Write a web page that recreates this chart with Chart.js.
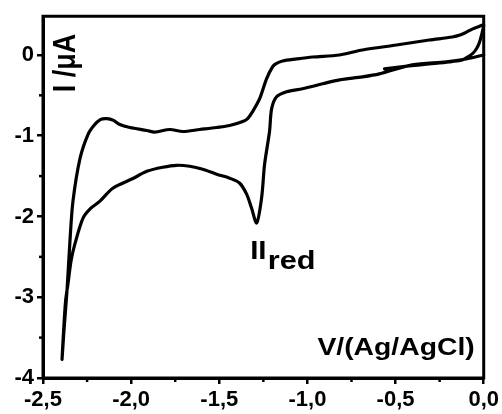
<!DOCTYPE html>
<html><head><meta charset="utf-8">
<script src="https://cdn.jsdelivr.net/npm/chart.js@4"></script>
<style>html,body{margin:0;padding:0;background:#fff}#wrap{width:502px;height:414px}</style>
</head><body><div id="wrap"><canvas id="c" width="502" height="414"></canvas></div>
<script>
// Cyclic voltammogram: potential (V vs Ag/AgCl) and current (µA), in scan order
const potential = [
  -0.563,-0.422,-0.309,-0.195,-0.122,-0.099,-0.062,-0.042,-0.025,-0.012,0.0,
  -0.03,-0.065,-0.10,-0.13,-0.178,-0.309,-0.495,-0.688,-0.818,-0.971,-1.062,-1.141,-1.18,-1.198,
  -1.232,-1.271,-1.311,-1.339,-1.367,-1.441,-1.515,-1.611,-1.707,-1.781,-1.866,-1.911,-2.007,-2.064,
  -2.10,-2.138,-2.175,-2.21,-2.245,-2.290,-2.330,-2.347,-2.364,-2.381,-2.392,
  -2.384,-2.372,-2.358,-2.341,-2.319,-2.273,-2.23,-2.177,-2.104,-1.990,-1.911,-1.821,-1.741,-1.668,
  -1.594,-1.515,-1.441,-1.384,-1.345,-1.317,-1.288,-1.260,-1.243,-1.215,-1.203,-1.175,-1.118,-1.028,
  -0.914,-0.818,-0.688,-0.592,-0.405,-0.212,-0.10,0.0
];
const current = [
  -0.172,-0.135,-0.111,-0.086,-0.062,-0.037,0.02,0.074,0.15,0.25,0.37,
  0.35,0.32,0.28,0.25,0.222,0.185,0.123,0.062,0.0,-0.025,-0.049,-0.074,-0.11,-0.148,
  -0.295,-0.542,-0.702,-0.788,-0.825,-0.874,-0.898,-0.923,-0.948,-0.923,-0.955,-0.935,-0.898,-0.862,
  -0.81,-0.788,-0.80,-0.87,-0.985,-1.28,-1.81,-2.30,-2.92,-3.41,-3.77,
  -3.45,-3.05,-2.83,-2.55,-2.34,-2.02,-1.90,-1.81,-1.65,-1.53,-1.44,-1.39,-1.366,-1.378,
  -1.415,-1.477,-1.526,-1.588,-1.723,-1.895,-2.08,-1.77,-1.354,-0.948,-0.665,-0.517,-0.455,-0.418,
  -0.357,-0.308,-0.271,-0.234,-0.123,-0.086,-0.05,0.0
];
const xTicks = [-2.5,-2.0,-1.5,-1.0,-0.5,0.0];
const xMinorTicks = [-2.25,-1.75,-1.25,-0.75,-0.25];
const yTicks = [-4,-3,-2,-1,0];
const yMinorTicks = [-3.5,-2.5,-1.5,-0.5];
const xRange = [-2.5, 0.0];
const yRange = [-4, 0.48];
const xTitle = 'V/(Ag/AgCl)';
const yTitle = 'I /\u03BCA';
const peakLabel = ['II', 'red'];
const peakAt = [-1.325, -2.53];

const FAM = '"Liberation Sans", Arial, Helvetica, sans-serif';
const STRETCH = 1.18;

const decor = {
  id: 'decor',
  afterDraw(chart) {
    const {ctx, chartArea: a, scales: {x, y}} = chart;
    ctx.save();
    ctx.strokeStyle = '#000';
    ctx.lineWidth = 3;
    ctx.lineCap = 'square';
    ctx.beginPath();
    ctx.moveTo(a.left, a.bottom);
    ctx.lineTo(a.left, a.top);
    ctx.lineTo(a.right, a.top);
    ctx.lineTo(a.right, a.bottom);
    ctx.lineTo(a.left, a.bottom);
    ctx.stroke();
    ctx.lineCap = 'butt';
    ctx.lineWidth = 2.5;
    xMinorTicks.forEach(v => {
      const p = x.getPixelForValue(v);
      ctx.beginPath(); ctx.moveTo(p, a.bottom); ctx.lineTo(p, a.bottom + 4); ctx.stroke();
    });
    yMinorTicks.forEach(v => {
      const p = y.getPixelForValue(v);
      ctx.beginPath(); ctx.moveTo(a.left, p); ctx.lineTo(a.left - 4, p); ctx.stroke();
    });
    ctx.fillStyle = '#000';
    ctx.textBaseline = 'alphabetic';
    // y title (rotated, inside plot)
    ctx.save();
    ctx.font = 'bold 27px ' + FAM;
    ctx.translate(a.left + 32, a.top + 76);
    ctx.rotate(-Math.PI / 2);
    ctx.scale(1, STRETCH);
    ctx.textAlign = 'left';
    ctx.fillText(yTitle, 0, 0);
    ctx.restore();
    // x title (inside plot, bottom right)
    ctx.save();
    ctx.font = 'bold 24px ' + FAM;
    ctx.translate(a.right - 9, a.bottom - 23);
    ctx.scale(STRETCH, 1);
    ctx.textAlign = 'right';
    ctx.fillText(xTitle, 0, 0);
    ctx.restore();
    // peak label
    const px = x.getPixelForValue(peakAt[0]);
    const py = y.getPixelForValue(peakAt[1]);
    ctx.save();
    ctx.translate(px, py);
    ctx.scale(STRETCH, 1);
    ctx.textAlign = 'left';
    ctx.font = 'bold 25px ' + FAM;
    ctx.fillText(peakLabel[0], 0, 0);
    const w = ctx.measureText(peakLabel[0]).width;
    ctx.font = 'bold 26px ' + FAM;
    ctx.fillText(peakLabel[1], w + 1, 10);
    ctx.restore();
    ctx.restore();
  }
};

const tickFont = {family: FAM, size: 22, weight: 'bold'};

new Chart(document.getElementById('c'), {
  type: 'scatter',
  data: {
    datasets: [{
      data: potential.map((v, i) => ({x: v, y: current[i]})),
      showLine: true,
      borderColor: '#000',
      borderWidth: 3.2,
      pointRadius: 0,
      tension: 0.3,
      fill: false,
      clip: false,
      borderCapStyle: 'round',
      borderJoinStyle: 'round'
    }]
  },
  options: {
    responsive: false,
    animation: false,
    devicePixelRatio: 1,
    layout: {padding: {top: 14, right: 17.5, left: 0, bottom: 0}},
    plugins: {legend: {display: false}, tooltip: {enabled: false}},
    scales: {
      x: {
        type: 'linear', min: xRange[0], max: xRange[1],
        afterBuildTicks: s => { s.ticks = xTicks.map(v => ({value: v})); },
        afterFit: s => { s.height = 36; },
        ticks: {
          callback: v => Number(v).toFixed(1).replace('.', ','),
          font: tickFont, color: '#000', padding: 3, maxRotation: 0, autoSkip: false
        },
        grid: {drawOnChartArea: false, drawTicks: true, tickLength: 6, tickWidth: 2.5, tickColor: '#000', color: '#000', lineWidth: 2.5},
        border: {display: true, width: 3, color: '#000'}
      },
      y: {
        type: 'linear', min: yRange[0], max: yRange[1],
        afterBuildTicks: s => { s.ticks = yTicks.map(v => ({value: v})); },
        afterFit: s => { s.width = 43; },
        ticks: {
          callback: v => String(v),
          font: tickFont, color: '#000', padding: 3, autoSkip: false
        },
        grid: {drawOnChartArea: false, drawTicks: true, tickLength: 6, tickWidth: 2.5, tickColor: '#000', color: '#000', lineWidth: 2.5},
        border: {display: true, width: 3, color: '#000'}
      }
    }
  },
  plugins: [decor]
});
</script>
</body></html>
